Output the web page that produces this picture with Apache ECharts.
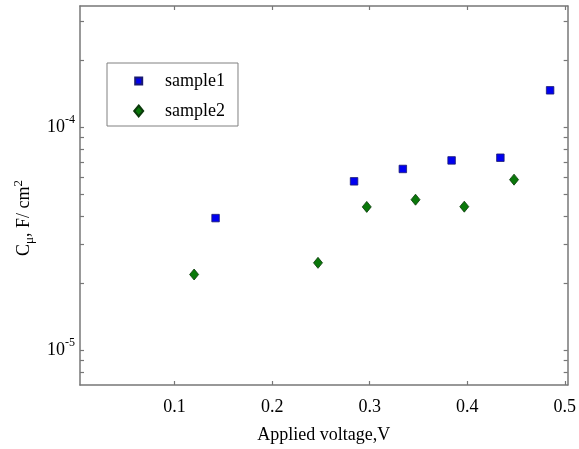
<!DOCTYPE html>
<html>
<head>
<meta charset="utf-8">
<script src="https://cdn.jsdelivr.net/npm/echarts@6/dist/echarts.min.js"></script>
<style>html,body{margin:0;padding:0;background:#fff;}#c{width:579px;height:449px;}</style>
</head>
<body>
<div id="c"></div>
<script>
const seriesNames = ['sample1', 'sample2'];
const voltage1 = [0.142, 0.284, 0.334, 0.384, 0.434, 0.485];
const cap1 = [3.92e-5, 5.73e-5, 6.51e-5, 7.11e-5, 7.31e-5, 1.466e-4];
const voltage2 = [0.120, 0.247, 0.297, 0.347, 0.397, 0.448];
const cap2 = [2.19e-5, 2.47e-5, 4.40e-5, 4.74e-5, 4.41e-5, 5.83e-5];
const xTicks = [0.1, 0.2, 0.3, 0.4, 0.5];
const yLabels = [1e-5, 1e-4];
const yTicks = [8e-6, 9e-6, 1e-5, 2e-5, 3e-5, 4e-5, 5e-5, 6e-5, 7e-5, 8e-5, 9e-5, 1e-4, 2e-4, 3e-4];

const FONT = 'Liberation Serif';
const AX = '#777777';
const xMin = 0.003, xMax = 0.503;
const yMin = 7.0e-6, yMax = 3.5e-4;

const chart = echarts.init(document.getElementById('c'), null, {renderer: 'canvas'});

const xBase = {
  type: 'value', min: xMin, max: xMax,
  axisLine: {show: true, onZero: false, lineStyle: {color: AX, width: 1.5}},
  axisTick: {show: true, inside: true, length: 4, lineStyle: {color: AX, width: 1.2}, customValues: xTicks},
  splitLine: {show: false}
};
const yBase = {
  type: 'log', logBase: 10, min: yMin, max: yMax,
  axisLine: {show: true, onZero: false, lineStyle: {color: AX, width: 1.5}},
  axisTick: {show: true, inside: true, length: 4, lineStyle: {color: AX, width: 1.2}, customValues: yTicks},
  minorTick: {show: false},
  splitLine: {show: false}
};

chart.setOption({
  animation: false,
  backgroundColor: '#ffffff',
  grid: {left: 80, right: 9, top: 6, bottom: 64, containLabel: false},
  xAxis: [
    Object.assign({}, xBase, {
      position: 'bottom',
      name: 'Applied voltage,V', nameLocation: 'middle', nameGap: 41,
      nameTextStyle: {fontFamily: FONT, fontSize: 18, color: '#000'},
      axisLabel: {show: true, margin: 13, fontFamily: FONT, fontSize: 18, color: '#000', customValues: xTicks,
        formatter: v => String(Math.round(v * 10) / 10)}
    }),
    Object.assign({}, xBase, {position: 'top', axisLabel: {show: false}})
  ],
  yAxis: [
    Object.assign({}, yBase, {
      position: 'left',
      name: '{b|C}{sub|μ}{b|, F/ cm}{sup|2}', nameLocation: 'middle', nameGap: 42, nameRotate: 90,
      nameTextStyle: {
        fontFamily: FONT, fontSize: 18, color: '#000',
        padding: [0, 45, 0, 0],
        rich: {
          b: {fontFamily: FONT, fontSize: 18, color: '#000'},
          sub: {fontFamily: FONT, fontSize: 13, color: '#000', padding: [10, 0, 0, 0]},
          sup: {fontFamily: FONT, fontSize: 13, color: '#000', padding: [0, 0, 12, 0]}
        }
      },
      axisLabel: {show: true, margin: 5, customValues: yLabels,
        formatter: v => '{b|10}{s|' + Math.round(Math.log10(v)) + '}',
        rich: {
          b: {fontFamily: FONT, fontSize: 18, color: '#000'},
          s: {fontFamily: FONT, fontSize: 12, color: '#000', padding: [0, 0, 16, 0]}
        }
      }
    }),
    Object.assign({}, yBase, {position: 'right', axisLabel: {show: false}})
  ],
  legend: {
    show: true, orient: 'vertical', left: 107, top: 63,
    padding: [9, 13, 6, 22],
    itemWidth: 30, itemHeight: 11, itemGap: 12,
    borderColor: '#808080', borderWidth: 1, backgroundColor: '#ffffff',
    textStyle: {fontFamily: FONT, fontSize: 18, color: '#000', lineHeight: 18},
    data: [
      {name: seriesNames[0], icon: 'path://M0,0M30,11M5.2,2h7v7h-7z'},
      {name: seriesNames[1], icon: 'path://M0,0M30,11M8.7,0L13.2,5.5L8.7,11L4.2,5.5z'}
    ]
  },
  series: [
    {
      name: seriesNames[0], type: 'scatter', xAxisIndex: 0, yAxisIndex: 0,
      symbol: 'rect', symbolSize: 7.5,
      itemStyle: {color: '#0000f0', borderColor: '#1a1a70', borderWidth: 0.8, opacity: 1},
      data: voltage1.map((x, i) => [x, cap1[i]])
    },
    {
      name: seriesNames[1], type: 'scatter', xAxisIndex: 0, yAxisIndex: 0,
      symbol: 'diamond', symbolSize: [9, 11],
      itemStyle: {color: '#0a780a', borderColor: '#0b3a0b', borderWidth: 0.8, opacity: 1},
      data: voltage2.map((x, i) => [x, cap2[i]])
    }
  ]
});
</script>
</body>
</html>
